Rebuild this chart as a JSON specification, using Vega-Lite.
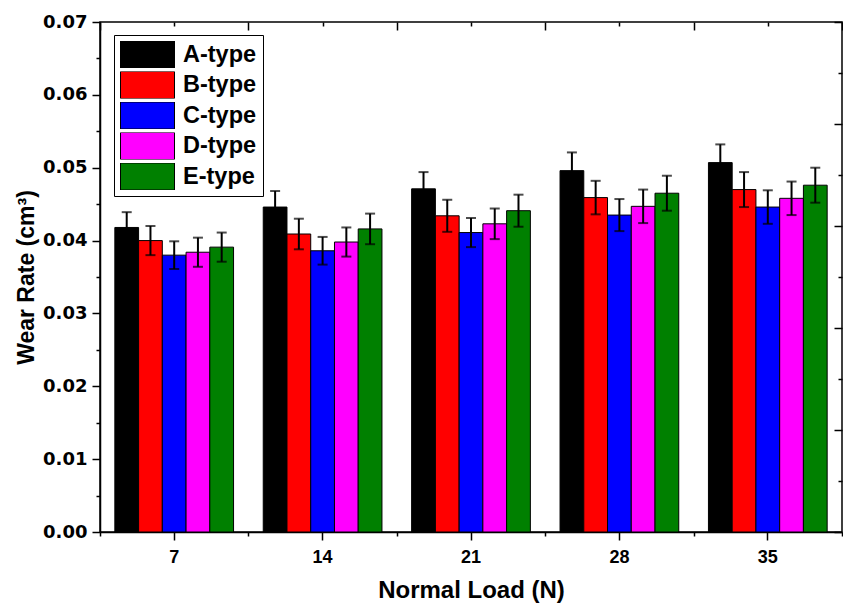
{
  "$schema": "https://vega.github.io/schema/vega-lite/v6.json",
  "width": 742,
  "height": 510,
  "autosize": "none",
  "padding": {"left": 100, "top": 22, "right": 1, "bottom": 71},
  "background": "#ffffff",
  "data": {"values": [
    {"load": 7, "type": "A-type", "rate": 0.0418, "lo": 0.0397, "hi": 0.0439},
    {"load": 7, "type": "B-type", "rate": 0.0400, "lo": 0.0380, "hi": 0.0420},
    {"load": 7, "type": "C-type", "rate": 0.0380, "lo": 0.0361, "hi": 0.0399},
    {"load": 7, "type": "D-type", "rate": 0.0384, "lo": 0.0364, "hi": 0.0404},
    {"load": 7, "type": "E-type", "rate": 0.0391, "lo": 0.0371, "hi": 0.0411},
    {"load": 14, "type": "A-type", "rate": 0.0446, "lo": 0.0424, "hi": 0.0468},
    {"load": 14, "type": "B-type", "rate": 0.0409, "lo": 0.0388, "hi": 0.0430},
    {"load": 14, "type": "C-type", "rate": 0.0386, "lo": 0.0367, "hi": 0.0405},
    {"load": 14, "type": "D-type", "rate": 0.0398, "lo": 0.0378, "hi": 0.0418},
    {"load": 14, "type": "E-type", "rate": 0.0416, "lo": 0.0395, "hi": 0.0437},
    {"load": 21, "type": "A-type", "rate": 0.0471, "lo": 0.0448, "hi": 0.0494},
    {"load": 21, "type": "B-type", "rate": 0.0434, "lo": 0.0412, "hi": 0.0456},
    {"load": 21, "type": "C-type", "rate": 0.0411, "lo": 0.0391, "hi": 0.0431},
    {"load": 21, "type": "D-type", "rate": 0.0423, "lo": 0.0402, "hi": 0.0444},
    {"load": 21, "type": "E-type", "rate": 0.0441, "lo": 0.0419, "hi": 0.0463},
    {"load": 28, "type": "A-type", "rate": 0.0496, "lo": 0.0471, "hi": 0.0521},
    {"load": 28, "type": "B-type", "rate": 0.0459, "lo": 0.0436, "hi": 0.0482},
    {"load": 28, "type": "C-type", "rate": 0.0435, "lo": 0.0413, "hi": 0.0457},
    {"load": 28, "type": "D-type", "rate": 0.0447, "lo": 0.0424, "hi": 0.0470},
    {"load": 28, "type": "E-type", "rate": 0.0465, "lo": 0.0441, "hi": 0.0489},
    {"load": 35, "type": "A-type", "rate": 0.0507, "lo": 0.0482, "hi": 0.0532},
    {"load": 35, "type": "B-type", "rate": 0.0470, "lo": 0.0446, "hi": 0.0494},
    {"load": 35, "type": "C-type", "rate": 0.0446, "lo": 0.0423, "hi": 0.0469},
    {"load": 35, "type": "D-type", "rate": 0.0458, "lo": 0.0435, "hi": 0.0481},
    {"load": 35, "type": "E-type", "rate": 0.0476, "lo": 0.0452, "hi": 0.0500}
  ]},
  "layer": [
    {
      "mark": {"type": "bar", "stroke": "#000000", "strokeWidth": 1},
      "encoding": {
        "x": {"field": "load", "type": "ordinal",
              "scale": {"paddingInner": 0.2, "paddingOuter": 0.1},
              "axis": {"orient": "bottom", "title": "Normal Load (N)", "labelAngle": 0, "bandPosition": 0.5,
                       "tickSize": 8, "labelPadding": 8, "titlePadding": 12,
                       "labelFontSize": 18, "titleFontSize": 24}},
        "xOffset": {"field": "type", "type": "nominal", "scale": {"paddingInner": 0, "paddingOuter": 0}},
        "y": {"field": "rate", "type": "quantitative",
              "scale": {"domain": [0, 0.07], "nice": false, "zero": true},
              "axis": {"orient": "left", "title": "Wear Rate (cm³)", "values": [0, 0.01, 0.02, 0.03, 0.04, 0.05, 0.06, 0.07],
                       "format": ".2f", "tickSize": 8, "labelPadding": 5, "titlePadding": 4,
                       "labelFont": "DejaVu Sans", "labelFontSize": 18,
                       "titleFont": "Liberation Sans", "titleFontSize": 23}},
        "color": {"field": "type", "type": "nominal",
                  "scale": {"domain": ["A-type", "B-type", "C-type", "D-type", "E-type"],
                            "range": ["#000000", "#ff0000", "#0000ff", "#ff00ff", "#008000"]},
                  "legend": {"title": null, "orient": "none", "legendX": 14, "legendY": 13}}
      }
    },
    {
      "mark": {"type": "rule", "color": "#000000", "strokeWidth": 2},
      "encoding": {
        "x": {"field": "load", "type": "ordinal", "scale": {"paddingInner": 0.2, "paddingOuter": 0.1}, "axis": null},
        "xOffset": {"field": "type", "type": "nominal", "scale": {"paddingInner": 0, "paddingOuter": 0}},
        "y": {"field": "lo", "type": "quantitative", "scale": {"domain": [0, 0.07], "nice": false}, "axis": null},
        "y2": {"field": "hi"}
      }
    },
    {
      "mark": {"type": "tick", "color": "#000000", "thickness": 2, "size": 10, "orient": "horizontal"},
      "encoding": {
        "x": {"field": "load", "type": "ordinal", "scale": {"paddingInner": 0.2, "paddingOuter": 0.1}, "axis": null},
        "xOffset": {"field": "type", "type": "nominal", "scale": {"paddingInner": 0, "paddingOuter": 0}},
        "y": {"field": "hi", "type": "quantitative", "scale": {"domain": [0, 0.07], "nice": false}, "axis": null}
      }
    },
    {
      "mark": {"type": "tick", "color": "#000000", "thickness": 2, "size": 10, "orient": "horizontal"},
      "encoding": {
        "x": {"field": "load", "type": "ordinal", "scale": {"paddingInner": 0.2, "paddingOuter": 0.1}, "axis": null},
        "xOffset": {"field": "type", "type": "nominal", "scale": {"paddingInner": 0, "paddingOuter": 0}},
        "y": {"field": "lo", "type": "quantitative", "scale": {"domain": [0, 0.07], "nice": false}, "axis": null}
      }
    },
    {
      "mark": {"type": "point", "opacity": 0},
      "encoding": {
        "y": {"field": "rate", "type": "quantitative", "scale": {"domain": [0, 0.07], "nice": false},
              "axis": {"orient": "left", "values": [0.005, 0.015, 0.025, 0.035, 0.045, 0.055, 0.065],
                       "tickSize": 4, "labels": false, "domain": false, "title": null}}
      }
    },
    {
      "mark": {"type": "point", "opacity": 0},
      "encoding": {
        "x": {"field": "load", "type": "quantitative", "scale": {"domain": [3.5, 38.5], "nice": false, "zero": false},
              "axis": {"orient": "bottom", "values": [3.5, 10.5, 17.5, 24.5, 31.5, 38.5],
                       "tickSize": 4, "labels": false, "domain": false, "title": null}}
      }
    },
    {
      "mark": {"type": "point", "opacity": 0},
      "encoding": {
        "x": {"field": "load", "type": "quantitative", "scale": {"domain": [3.5, 38.5], "nice": false, "zero": false},
              "axis": {"orient": "top", "values": [3.5, 10.5, 17.5, 24.5, 31.5, 38.5],
                       "tickSize": 8, "offset": -8, "labels": false, "domain": false, "title": null}}
      }
    },
    {
      "mark": {"type": "point", "opacity": 0},
      "encoding": {
        "x": {"field": "load", "type": "quantitative", "scale": {"domain": [3.5, 38.5], "nice": false, "zero": false},
              "axis": {"orient": "top", "values": [7, 14, 21, 28, 35],
                       "tickSize": 4, "offset": -4, "labels": false, "domain": false, "title": null}}
      }
    },
    {
      "mark": {"type": "point", "opacity": 0},
      "encoding": {
        "y": {"field": "rate", "type": "quantitative", "scale": {"domain": [0, 5], "nice": false},
              "axis": {"orient": "right", "values": [0, 1, 2, 3, 4, 5],
                       "tickSize": 8, "offset": -8, "labels": false, "domain": false, "title": null}}
      }
    },
    {
      "mark": {"type": "point", "opacity": 0},
      "encoding": {
        "y": {"field": "rate", "type": "quantitative", "scale": {"domain": [0, 5], "nice": false},
              "axis": {"orient": "right", "values": [0.5, 1.5, 2.5, 3.5, 4.5],
                       "tickSize": 4, "offset": -4, "labels": false, "domain": false, "title": null}}
      }
    }
  ],
  "resolve": {
    "scale": {"x": "independent", "y": "independent", "xOffset": "independent"},
    "axis": {"x": "independent", "y": "independent"}
  },
  "config": {
    "view": {"stroke": "#000000", "strokeWidth": 1.5},
    "axis": {
      "grid": false,
      "labelFont": "Liberation Sans", "labelFontWeight": "bold", "labelColor": "#000000",
      "titleFont": "Liberation Sans", "titleFontWeight": "bold", "titleColor": "#000000",
      "tickColor": "#000000", "tickWidth": 1.5, "domainColor": "#000000", "domainWidth": 1.5
    },
    "legend": {
      "strokeColor": "#000000", "strokeWidth": 1, "fillColor": "#ffffff",
      "padding": 6, "rowPadding": 3.5, "clipHeight": 27,
      "symbolType": "M-1,-0.5H1V0.5H-1Z", "symbolSize": 2916,
      "symbolStrokeColor": "#000000", "symbolStrokeWidth": 1, "symbolOpacity": 1,
      "labelFont": "Liberation Sans", "labelFontWeight": "bold", "labelFontSize": 23.5,
      "labelColor": "#000000", "labelOffset": 8
    }
  }
}
